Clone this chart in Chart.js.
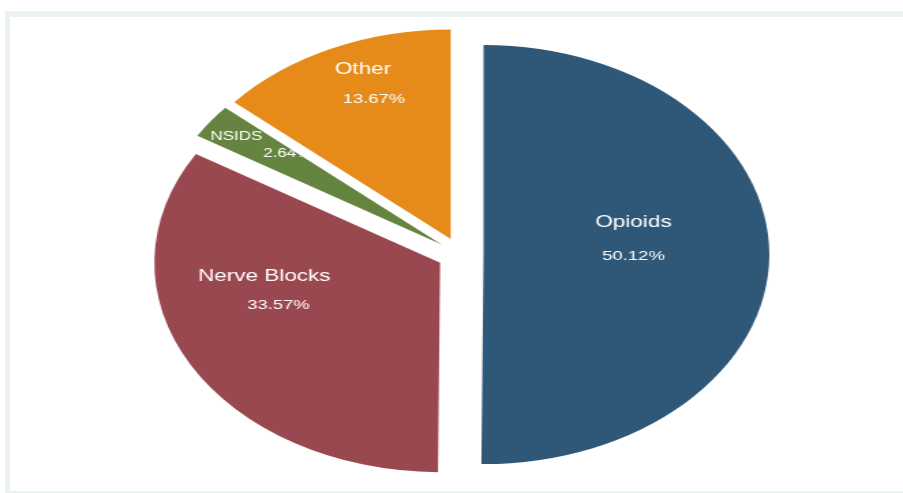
<!DOCTYPE html>
<html>
<head>
<meta charset="utf-8">
<title>Analgesia used</title>
<script src="https://cdn.jsdelivr.net/npm/chart.js@4.4.1/dist/chart.umd.min.js"></script>
<style>
  html, body { margin: 0; padding: 0; background: #fff; overflow: hidden; }
  #frame { position: absolute; left: 5px; top: 11px; width: 910px; height: 482px; background: #e9f1f4; }
  #plot { position: absolute; left: 5px; top: 6px; right: 0; bottom: 2px; background: #fff; }
  /* the pie is drawn round, then widened like the exported graph */
  #wrap { position: absolute; left: 0; top: 0; width: 662px; height: 493px; transform: scaleX(1.364); transform-origin: 0 0; }
</style>
</head>
<body>
<div id="frame"><div id="plot"></div></div>
<div id="wrap"><canvas id="pie"></canvas></div>
<script>
var categories = ["Opioids", "Nerve Blocks", "NSIDS", "Other"];
var shares = [50.12, 33.57, 2.64, 13.67];
var sliceColors = ["#2f5778", "#9a484f", "#64843f", "#e68b1a"];

// every slice is pulled out this far along its middle angle
var EXPLODE = 17;
// where the texts sit inside a slice:
// [turn of name (deg), share of radius, turn of percent (deg), share of radius]
var labelSpots = [
	[-17, 0.548, 0, 0.525],
	[23.7, 0.618, 10, 0.599],
	[-0.2, 0.886, 3, 0.695],
	[4, 0.872, 2.8, 0.723]
];

class ExplodedArc extends Chart.ArcElement {
	draw(ctx) {
		var mid = (this.startAngle + this.endAngle) / 2;
		ctx.save();
		ctx.translate(Math.cos(mid) * EXPLODE, Math.sin(mid) * EXPLODE);
		super.draw(ctx);
		ctx.restore();
	}
}
ExplodedArc.id = 'explodedArc';

class ExplodedPie extends Chart.PieController {}
ExplodedPie.id = 'explodedPie';
ExplodedPie.defaults = { dataElementType: 'explodedArc' };

Chart.register(ExplodedArc, ExplodedPie);

var sliceLabels = {
	id: 'sliceLabels',
	afterDatasetsDraw: function(chart) {
		var ctx = chart.ctx;
		var arcs = chart.getDatasetMeta(0).data;
		arcs.forEach(function(arc, i) {
			var p = arc.getProps(['x', 'y', 'startAngle', 'endAngle', 'outerRadius'], true);
			var mid = (p.startAngle + p.endAngle) / 2;
			var cx = p.x + Math.cos(mid) * EXPLODE;
			var cy = p.y + Math.sin(mid) * EXPLODE;
			var spot = labelSpots[i];
			// thin slices get smaller text
			var small = shares[i] < 5;

			ctx.save();
			// texts stay inside their own slice
			ctx.beginPath();
			ctx.moveTo(cx, cy);
			ctx.arc(cx, cy, p.outerRadius, p.startAngle, p.endAngle);
			ctx.closePath();
			ctx.clip();
			ctx.fillStyle = '#ffffff';
			ctx.textAlign = 'center';
			ctx.textBaseline = 'alphabetic';

			function drawAt(text, size, turn, frac) {
				var a = mid + turn * Math.PI / 180;
				var r = frac * p.outerRadius;
				ctx.font = size + 'px "Liberation Sans", Arial, sans-serif';
				ctx.fillText(text, cx + Math.cos(a) * r, cy + Math.sin(a) * r + 0.358 * size);
			}
			drawAt(categories[i], small ? 12.5 : 16.5, spot[0], spot[1]);
			drawAt(shares[i].toFixed(2) + '%', small ? 12.5 : 13.5, spot[2], spot[3]);
			ctx.restore();
		});
	}
};

window.onload = function() {
	var ctx = document.getElementById('pie');
	window.myPie = new Chart(ctx, {
		type: 'explodedPie',
		data: {
			labels: categories,
			datasets: [{
				data: shares,
				backgroundColor: sliceColors,
				borderWidth: 0
			}]
		},
		options: {
			responsive: true,
			maintainAspectRatio: false,
			animation: false,
			events: [],
			radius: 209.5,
			layout: {
				padding: { left: 13, top: 16, right: 0, bottom: 0 }
			},
			plugins: {
				legend: { display: false },
				tooltip: { enabled: false }
			}
		},
		plugins: [sliceLabels]
	});
};
</script>
</body>
</html>
